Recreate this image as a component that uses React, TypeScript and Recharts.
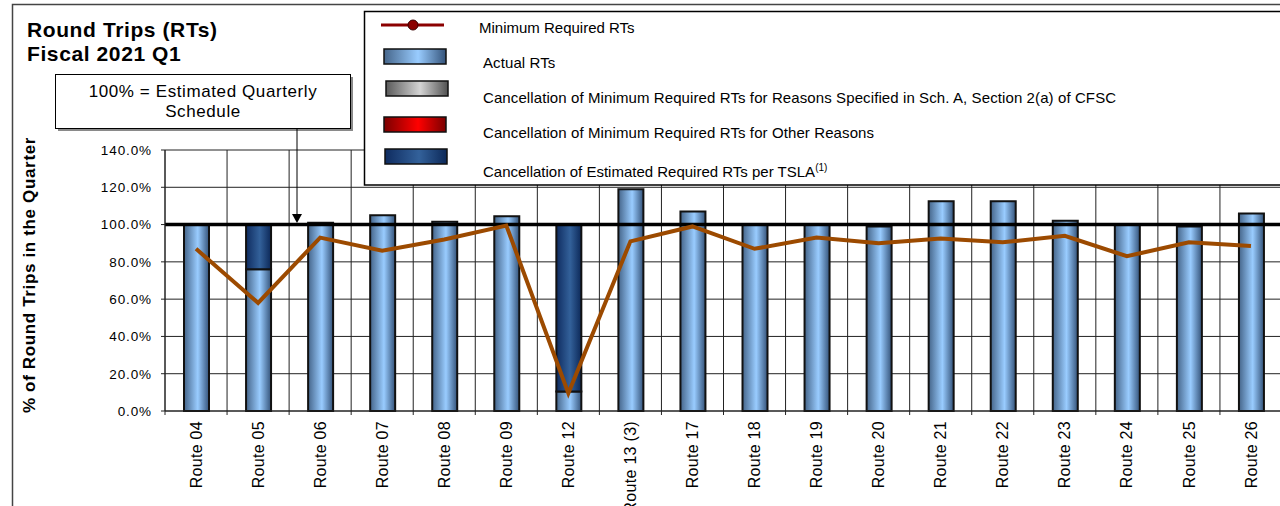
import {
  ComposedChart, Bar, Line, XAxis, YAxis, CartesianGrid, ReferenceLine,
} from "recharts";

const routes = [
  "Route 04", "Route 05", "Route 06", "Route 07", "Route 08", "Route 09",
  "Route 12", "Route 13 (3)", "Route 17", "Route 18", "Route 19", "Route 20",
  "Route 21", "Route 22", "Route 23", "Route 24", "Route 25", "Route 26",
];
// % of estimated quarterly schedule
const actualRTs = [100, 76, 101, 105, 101.5, 104.5, 10.5, 119, 107, 100, 100, 99, 112.5, 112.5, 102, 100, 99, 106];
const schACancel = [0, 0, 0, 0, 0, 0, 0, 0, 0, 0, 0, 0, 0, 0, 0, 0, 0, 0];
const otherCancel = [0, 0, 0, 0, 0, 0, 0, 0, 0, 0, 0, 0, 0, 0, 0, 0, 0, 0];
const estCancel = [0, 24, 0, 0, 0, 0, 89.5, 0, 0, 0, 0, 0, 0, 0, 0, 0, 0, 0];
const minRequired = [87, 58, 93, 86, 92, 99.5, 9.5, 91, 99, 87, 93, 90, 92.5, 90.5, 94, 83, 90.5, 88.5];
const yTicks = [0, 20, 40, 60, 80, 100, 120, 140];

const CHART_W = 1300;
const CHART_H = 506;
const PLOT_LEFT = 165;
const PLOT_RIGHT_PAD = 18;
const BAND = (CHART_W - PLOT_LEFT - PLOT_RIGHT_PAD) / routes.length;
const FONT = "'Liberation Sans', Arial, sans-serif";

const data = routes.map((route, i) => ({
  route,
  actual: actualRTs[i],
  schA: schACancel[i],
  other: otherCancel[i],
  est: estCancel[i],
  minReq: minRequired[i],
}));

function Gradients({ prefix }: { prefix: string }) {
  const grad = (id: string, edgeL: string, mid: string, edgeR: string) => (
    <linearGradient id={prefix + id} x1="0" y1="0" x2="1" y2="0">
      <stop offset="0%" stopColor={edgeL} />
      <stop offset="55%" stopColor={mid} />
      <stop offset="100%" stopColor={edgeR} />
    </linearGradient>
  );
  return (
    <defs>
      {grad("Actual", "#45658a", "#99ccff", "#34537a")}
      {grad("Gray", "#5a5a5a", "#d4d4d4", "#505050")}
      {grad("Red", "#7a0000", "#ff0000", "#7a0000")}
      {grad("Navy", "#0f2c60", "#33619a", "#0c2858")}
    </defs>
  );
}

function RouteTick(props: any) {
  const { x, y, payload } = props;
  const bx = x - BAND / 2;
  const ty = y + 10;
  return (
    <g>
      <line x1={bx} x2={bx} y1={y} y2={y + 4} stroke="#222" />
      <text
        x={x}
        y={ty}
        transform={`rotate(-90 ${x} ${ty})`}
        textAnchor="end"
        dy="0.35em"
        fontSize={16}
        letterSpacing={0.3}
        fill="#000"
      >
        {payload.value}
      </text>
    </g>
  );
}

function Overlay() {
  const legendRows = [
    { label: "Actual RTs", fill: "lgActual", x: 384, y: 49, ty: 67.7 },
    { label: "Cancellation of Minimum Required RTs for Reasons Specified in Sch. A, Section 2(a) of CFSC", fill: "lgGray", x: 386, y: 81, ty: 102.7 },
    { label: "Cancellation of Minimum Required RTs for Other Reasons", fill: "lgRed", x: 384, y: 117, ty: 137.7 },
  ];
  return (
    <svg width={1280} height={506} style={{ position: "absolute", left: 0, top: 0, pointerEvents: "none" }}>
      <Gradients prefix="lg" />
      {/* outer frame */}
      <path d="M12.5 506 V4.5 H1280" fill="none" stroke="#444" strokeWidth={1.5} />

      {/* title */}
      <text x={27} y={37.3} fontSize={21} fontWeight="bold" letterSpacing={0.6} fill="#000">Round Trips (RTs)</text>
      <text x={27} y={61} fontSize={21} fontWeight="bold" letterSpacing={0.6} fill="#000">Fiscal 2021 Q1</text>

      {/* annotation box */}
      <rect x={58} y={77} width={295} height={54} fill="#8a8a8a" />
      <rect x={55.5} y={74.5} width={295} height={54} fill="#fff" stroke="#000" strokeWidth={1} />
      <text x={203} y={97.3} textAnchor="middle" fontSize={17} letterSpacing={0.6} fill="#000">100% = Estimated Quarterly</text>
      <text x={203} y={117.3} textAnchor="middle" fontSize={17} letterSpacing={0.6} fill="#000">Schedule</text>
      <line x1={297} x2={297} y1={128.5} y2={214} stroke="#000" strokeWidth={1} />
      <polygon points="292,214 302,214 297,223" fill="#000" />

      {/* y axis title */}
      <text
        x={35}
        y={275}
        transform="rotate(-90 35 275)"
        textAnchor="middle"
        fontSize={17}
        fontWeight="bold"
        letterSpacing={0.65}
        fill="#000"
      >
        % of Round Trips in the Quarter
      </text>

      {/* legend */}
      <rect x={364.5} y={11.5} width={1000} height={173.5} fill="#fff" stroke="#000" strokeWidth={1.5} />
      <line x1={381} x2={444} y1={25} y2={25} stroke="#8b0000" strokeWidth={3} />
      <circle cx={413} cy={25} r={5} fill="#8b0000" stroke="#3a0000" strokeWidth={1} />
      <text x={479} y={32.7} fontSize={15} fill="#000">Minimum Required RTs</text>
      {legendRows.map((r) => (
        <g key={r.label}>
          <rect x={r.x} y={r.y} width={62} height={15} fill={`url(#${r.fill})`} stroke="#111" strokeWidth={1.5} />
          <text x={483} y={r.ty} fontSize={15} letterSpacing={0.1} fill="#000">{r.label}</text>
        </g>
      ))}
      <rect x={385} y={149} width={62} height={15} fill="url(#lgNavy)" stroke="#111" strokeWidth={1.5} />
      <text x={483} y={176.7} fontSize={15} fill="#000">
        Cancellation of Estimated Required RTs per TSLA
        <tspan dy={-6} fontSize={10}>(1)</tspan>
      </text>
    </svg>
  );
}

export default function App() {
  return (
    <div
      style={{
        position: "absolute", left: 0, top: 0, width: 1280, height: 506,
        overflow: "hidden", background: "#fff", fontFamily: FONT,
      }}
    >
      <div style={{ position: "absolute", left: 0, top: 0 }}>
        <ComposedChart
          width={CHART_W}
          height={CHART_H}
          data={data}
          margin={{ top: 150, right: PLOT_RIGHT_PAD, left: 0, bottom: 0 }}
        >
          <Gradients prefix="g" />
          <CartesianGrid
            stroke="#222"
            strokeWidth={1}
            verticalCoordinatesGenerator={({ offset }: any) =>
              Array.from({ length: routes.length + 1 }, (_, i) => offset.left + (i * offset.width) / routes.length)
            }
          />
          <XAxis
            dataKey="route"
            height={95}
            interval={0}
            tickLine={false}
            tickSize={0}
            tickMargin={0}
            axisLine={{ stroke: "#222" }}
            tick={<RouteTick />}
          />
          <YAxis
            width={PLOT_LEFT}
            domain={[0, 140]}
            ticks={yTicks}
            interval={0}
            tickFormatter={(v: number) => v.toFixed(1) + "%"}
            tickSize={4}
            tickMargin={9}
            axisLine={{ stroke: "#222" }}
            tickLine={{ stroke: "#222" }}
            tick={{ fill: "#000", fontSize: 13.5, letterSpacing: 0.9 }}
          />
          <Bar dataKey="actual" stackId="s" fill="url(#gActual)" stroke="#111" strokeWidth={2} barSize={25} isAnimationActive={false} />
          <Bar dataKey="schA" stackId="s" fill="url(#gGray)" stroke="#111" strokeWidth={2} barSize={25} isAnimationActive={false} />
          <Bar dataKey="other" stackId="s" fill="url(#gRed)" stroke="#111" strokeWidth={2} barSize={25} isAnimationActive={false} />
          <Bar dataKey="est" stackId="s" fill="url(#gNavy)" stroke="#111" strokeWidth={2} barSize={25} isAnimationActive={false} />
          <ReferenceLine y={100} stroke="#000" strokeWidth={3.5} />
          <Line
            type="linear"
            dataKey="minReq"
            stroke="#9c4a00"
            strokeWidth={4}
            dot={false}
            activeDot={false}
            isAnimationActive={false}
          />
        </ComposedChart>
      </div>
      <Overlay />
    </div>
  );
}
